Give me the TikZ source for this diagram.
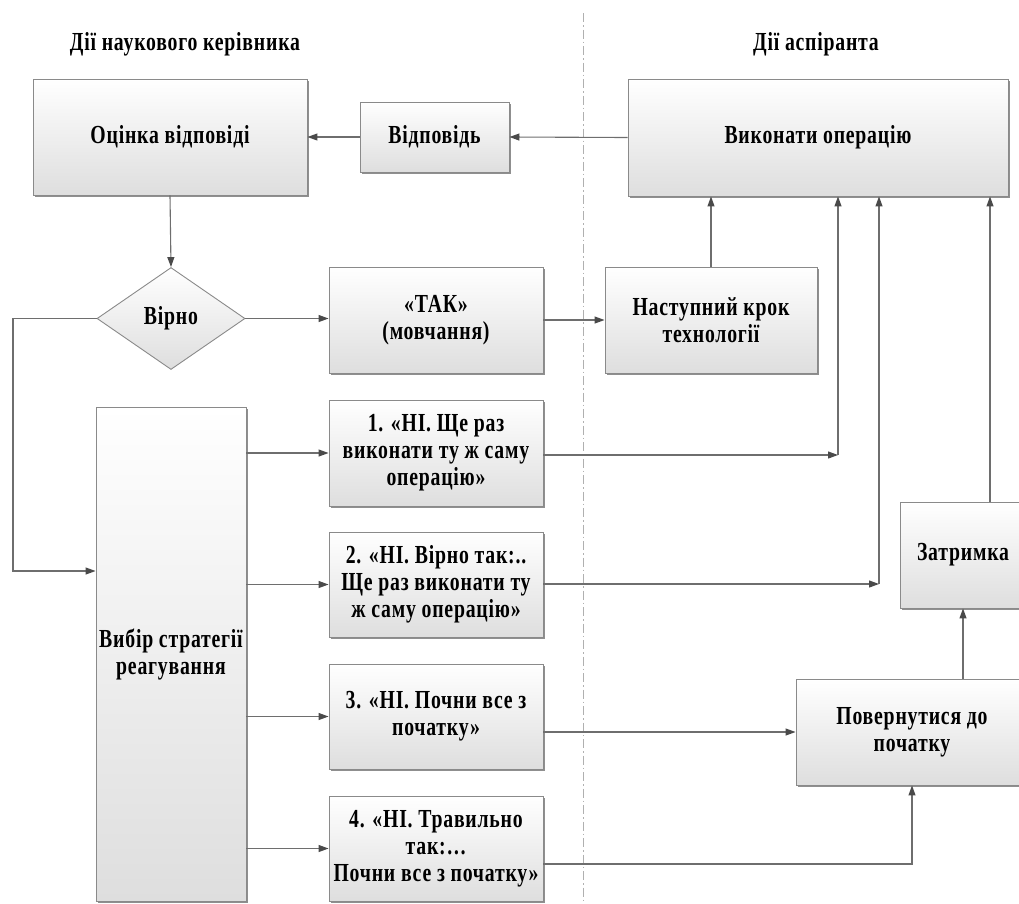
\documentclass[tikz,border=0pt]{standalone}
\usepackage{fontspec}
\setmainfont{Liberation Serif}[FakeStretch=0.76,LetterSpace=3]
\usetikzlibrary{arrows.meta,shapes.geometric,shadows,calc}
\definecolor{bordergray}{HTML}{8A8A8A}
\definecolor{boxbottom}{HTML}{DEDEDE}
\definecolor{linegray}{HTML}{6E6E6E}
\definecolor{tipgray}{HTML}{4A4A4A}
\definecolor{shadowgray}{HTML}{8F8F8F}
\definecolor{sepgray}{HTML}{B0B0B0}
\tikzset{
  lbl/.style={font=\fontsize{26}{27}\selectfont\bfseries, align=center},
  box/.style={lbl, draw=bordergray, line width=0.9pt, top color=white, bottom color=boxbottom,
    inner sep=0pt, general shadow={shadow xshift=2.2pt, shadow yshift=-2.2pt, fill=shadowgray}},
  dia/.style={lbl, diamond, draw=bordergray, line width=0.9pt, top color=white, bottom color=boxbottom,
    inner sep=0pt, aspect=1.45},
  conn/.style={draw=linegray, line width=1.1pt, -{Triangle[length=10pt,width=7pt,color=tipgray]}},
}
\begin{document}
\begin{tikzpicture}[x=1pt,y=-1pt]
\useasboundingbox (0,0) rectangle (1019,903);
% separator
\draw[sepgray, line width=0.8pt, dash pattern=on 9pt off 3pt on 1.5pt off 3pt] (583,13) -- (583,903);
% headings
\node[lbl] (h1) at (185,44) {Дії наукового керівника};
\node[lbl] (h2) at (816,44) {Дії аспіранта};
% boxes
\node[box, minimum width=274pt, minimum height=116pt] (ocinka) at (170,137) {Оцінка відповіді};
\node[box, minimum width=149pt, minimum height=70pt] (vidp) at (434.5,137) {Відповідь};
\node[box, minimum width=380pt, minimum height=117pt] (vyk) at (818,137.5) {Виконати операцію};
\node[dia, minimum width=148pt, minimum height=102pt] (virno) at (171,318.5) {Вірно};
\node[box, minimum width=214pt, minimum height=106pt] (tak) at (436,320) {«ТАК»\\(мовчання)};
\node[box, minimum width=212pt, minimum height=106pt] (nast) at (711,320) {Наступний крок\\технології};
\node[box, minimum width=150pt, minimum height=494pt] (vybir) at (171,654) {Вибір стратегії\\реагування};
\node[box, minimum width=214pt, minimum height=106pt] (o1) at (436,453) {1. «НІ. Ще раз\\виконати ту ж саму\\операцію»};
\node[box, minimum width=214pt, minimum height=105pt] (o2) at (436,584.5) {2. «НІ. Вірно так:..\\Ще раз виконати ту\\ж саму операцію»};
\node[box, minimum width=214pt, minimum height=105pt] (o3) at (436,716.5) {3. «НІ. Почни все з\\початку»};
\node[box, minimum width=214pt, minimum height=105pt] (o4) at (436,848.5) {4. «НІ. Травильно\\так:…\\Почни все з початку»};
\node[box, minimum width=126pt, minimum height=106pt] (zat) at (963,555) {Затримка};
\node[box, minimum width=232pt, minimum height=106pt] (pov) at (912,732) {Повернутися до\\початку};
% junction coordinates
\coordinate (j1) at (838,455);
\coordinate (j2) at (879,584);
\coordinate (jl) at (13,571);
\coordinate (j4) at (912,864);
\coordinate (jz) at (990,502);
% connectors
\draw[conn] (vyk.west) -- (vidp.east);
\draw[conn] (vidp.west) -- (ocinka.east);
\draw[conn] (ocinka.south) -- (virno.north);
\draw[conn] (virno.east) -- (tak.west |- virno.east);
\draw[conn] (tak.east) -- (nast.west);
\draw[conn] (nast.north) -- (nast.north |- vyk.south);
\draw[conn] (virno.west) -| (jl) -- (vybir.west |- jl);
\draw[conn] (vybir.east |- o1) -- (o1.west);
\draw[conn] (vybir.east |- o2) -- (o2.west);
\draw[conn] (vybir.east |- o3) -- (o3.west);
\draw[conn] (vybir.east |- o4) -- (o4.west);
\draw[conn] (o1.east |- j1) -- (j1);
\draw[conn] (j1) -- (j1 |- vyk.south);
\draw[conn] (o2.east |- j2) -- (j2);
\draw[conn] (j2) -- (j2 |- vyk.south);
\draw[conn] (o3.east |- pov.west) -- (pov.west);
\draw[conn] (o4.east |- j4) -- (j4) -- (pov.south);
\draw[conn] (zat.south |- pov.north) -- (zat.south);
\draw[conn] (jz) -- (jz |- vyk.south);
\end{tikzpicture}
\end{document}
